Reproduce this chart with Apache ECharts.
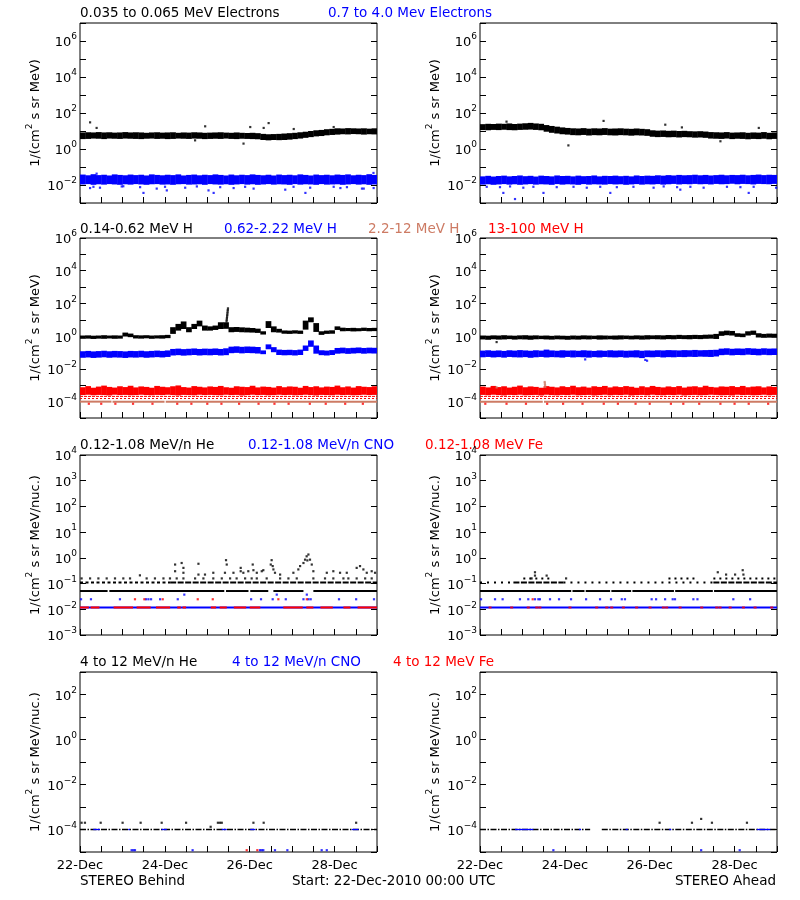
<!DOCTYPE html>
<html><head><meta charset="utf-8">
<script src="https://cdn.jsdelivr.net/npm/echarts@6/dist/echarts.min.js"></script>
<style>html,body{margin:0;padding:0;background:#fff}#c{width:800px;height:900px}</style>
</head><body><div id="c"></div>
<script>
// ===== DATA (flux values stored as log10 exponents; time in hours from 22-Dec-2010 00:00 UTC) =====
const X_MAX = 168;
const dayTickLabels = ['22-Dec', '24-Dec', '26-Dec', '28-Dec'];

// --- Row 1: electrons (3-hour bins, lower/upper edge of the scatter band) ---
const eLowB_lo = [0.55,0.56,0.58,0.57,0.55,0.58,0.57,0.56, 0.58,0.57,0.56,0.55,0.57,0.58,0.56,0.57, 0.55,0.56,0.58,0.57,0.56,0.58,0.57,0.55, 0.56,0.57,0.56,0.58,0.56,0.55,0.57,0.56, 0.55,0.54,0.50,0.48,0.50,0.49,0.50,0.52, 0.55,0.58,0.62,0.66,0.70,0.72,0.76,0.78, 0.80,0.82,0.81,0.83,0.82,0.80,0.82,0.81];
const eLowB_hi = [0.92,0.93,0.92,0.94,0.92,0.93,0.91,0.92, 0.94,0.92,0.93,0.92,0.90,0.92,0.93,0.91, 0.92,0.93,0.90,0.92,0.91,0.93,0.92,0.90, 0.91,0.92,0.93,0.91,0.90,0.92,0.90,0.89, 0.90,0.88,0.84,0.82,0.83,0.84,0.86,0.88, 0.90,0.93,0.96,1.00,1.04,1.06,1.10,1.12, 1.15,1.14,1.16,1.15,1.14,1.15,1.13,1.15];
const eHighB_lo = [-1.97,-1.95,-1.99,-1.96,-1.98,-1.95,-1.97,-1.99, -1.96,-1.98,-1.95,-1.97,-1.99,-1.96,-1.95,-1.98, -1.97,-1.99,-1.96,-1.95,-1.98,-1.97,-1.96,-1.99, -1.95,-1.97,-1.98,-1.96,-1.99,-1.97,-1.95,-1.98, -1.96,-1.99,-1.97,-1.95,-1.98,-1.96,-1.97,-1.99, -1.95,-1.98,-1.96,-1.97,-1.99,-1.95,-1.98,-1.97, -1.96,-1.99,-1.97,-1.95,-1.98,-1.96,-1.99,-1.97];
const eHighB_hi = [-1.42,-1.46,-1.40,-1.45,-1.43,-1.47,-1.41,-1.44, -1.46,-1.42,-1.45,-1.43,-1.47,-1.41,-1.44,-1.46, -1.43,-1.45,-1.41,-1.47,-1.44,-1.42,-1.46,-1.43, -1.45,-1.41,-1.44,-1.47,-1.42,-1.46,-1.43,-1.45, -1.41,-1.44,-1.46,-1.43,-1.47,-1.42,-1.45,-1.43, -1.46,-1.41,-1.44,-1.47,-1.42,-1.45,-1.43,-1.46, -1.42,-1.44,-1.41,-1.46,-1.43,-1.45,-1.40,-1.44];
const eLowA_lo = [1.05,1.04,1.06,1.05,1.07,1.05,1.04,1.06, 1.07,1.08,1.06,1.04,0.96,0.90,0.86,0.82, 0.80,0.77,0.76,0.78,0.75,0.77,0.76,0.78, 0.76,0.75,0.77,0.76,0.74,0.76,0.75,0.73, 0.68,0.66,0.67,0.65,0.66,0.64,0.66,0.65, 0.63,0.64,0.62,0.58,0.57,0.56,0.58,0.55, 0.57,0.56,0.54,0.56,0.55,0.57,0.54,0.56];
const eLowA_hi = [1.38,1.40,1.39,1.41,1.40,1.42,1.39,1.41, 1.43,1.45,1.42,1.40,1.33,1.28,1.24,1.20, 1.17,1.15,1.14,1.16,1.13,1.15,1.14,1.16, 1.13,1.14,1.15,1.13,1.12,1.14,1.12,1.10, 1.04,1.02,1.03,1.01,1.02,1.00,1.01,0.99, 0.98,0.99,0.97,0.94,0.93,0.92,0.94,0.91, 0.92,0.93,0.90,0.92,0.91,0.94,0.90,0.92];
const eHighA_lo = [-1.98,-1.96,-1.99,-1.97,-1.95,-1.98,-1.96,-1.99, -1.97,-1.95,-1.98,-1.96,-1.97,-1.99,-1.95,-1.98, -1.96,-1.97,-1.99,-1.95,-1.98,-1.96,-1.97,-1.98, -1.95,-1.97,-1.96,-1.99,-1.97,-1.95,-1.98,-1.96, -1.97,-1.95,-1.98,-1.96,-1.94,-1.97,-1.95,-1.96, -1.94,-1.96,-1.95,-1.97,-1.94,-1.96,-1.95,-1.93, -1.96,-1.94,-1.95,-1.97,-1.94,-1.95,-1.96,-1.94];
const eHighA_hi = [-1.52,-1.49,-1.53,-1.50,-1.48,-1.52,-1.50,-1.47, -1.51,-1.49,-1.53,-1.48,-1.50,-1.52,-1.47,-1.50, -1.49,-1.52,-1.48,-1.51,-1.50,-1.47,-1.52,-1.49, -1.50,-1.48,-1.51,-1.49,-1.52,-1.47,-1.50,-1.48, -1.49,-1.46,-1.48,-1.45,-1.47,-1.44,-1.46,-1.45, -1.43,-1.46,-1.44,-1.47,-1.45,-1.43,-1.46,-1.44, -1.45,-1.43,-1.46,-1.44,-1.42,-1.45,-1.43,-1.44];
const eLowB_out = [[5.7,1.48],[9.4,1.17],[65.1,0.48],[70.8,1.26],[92.5,0.30],[96.3,1.22],[103.9,1.17],[106.7,1.44],[120.9,1.11],[143.5,1.22]];
const eHighB_out = [[5.7,-2.17],[7.6,-2.1],[9.4,-1.37],[11.3,-2.15],[23.6,-2.08],[24.5,-2.07],[34.0,-2.12],[35.9,-2.44],[43.4,-2.2],[48.1,-2.1],[49.1,-2.3],[59.5,-2.15],[66.1,-2.08],[72.7,-2.3],[75.6,-2.44],[79.3,-2.12],[86.9,-2.17],[93.4,-2.1],[98.2,-2.2],[116.1,-2.26],[120.8,-2.1],[127.5,-2.44],[130.2,-2.15],[143.5,-2.1],[147.3,-2.17],[151.0,-2.12],[159.5,-2.2],[160.5,-2.2],[166.1,-2.17],[166.0,-1.33]];
const eLowA_out = [[15.0,1.52],[50.0,0.2],[69.9,1.56],[104.8,1.35],[114.2,1.2],[136.0,0.43],[157.7,1.17]];
const eHighA_out = [[3.8,-2.1],[11.3,-2.12],[13.2,-2.44],[17.0,-2.08],[19.8,-2.78],[24.5,-2.15],[30.2,-2.1],[35.9,-2.44],[43.4,-2.12],[52.9,-2.1],[60.4,-2.15],[68.0,-2.1],[73.7,-2.44],[77.4,-2.12],[86.8,-2.1],[98.2,-2.15],[103.9,-2.08],[111.5,-2.12],[113.3,-2.26],[119.0,-2.1],[126.5,-2.15],[139.7,-2.1],[147.3,-2.12],[152.0,-2.44],[154.8,-2.1],[167.5,-2.15]];

// --- Row 2: protons ---
const hLowB_lo = [-0.16,-0.15,-0.17,-0.15,-0.16,-0.14,-0.16,-0.15, -0.02,-0.06,-0.14,-0.15,-0.13,-0.16,-0.14,-0.15, -0.12,0.14,0.34,0.44,0.24,0.44,0.60,0.34, 0.34,0.38,0.44,0.45,0.24,0.26,0.24,0.23, 0.22,0.20,0.10,0.50,0.24,0.22,0.15,0.14, 0.16,0.14,0.40,0.85,0.26,0.08,0.14,0.15, 0.38,0.30,0.31,0.29,0.30,0.32,0.30,0.31];
const hLowB_hi = [0.04,0.05,0.03,0.04,0.06,0.04,0.05,0.04, 0.22,0.16,0.06,0.05,0.06,0.04,0.05,0.06, 0.08,0.55,0.75,0.90,0.55,0.75,0.95,0.65, 0.60,0.65,0.85,0.85,0.55,0.56,0.54,0.52, 0.50,0.46,0.30,0.92,0.60,0.45,0.35,0.34, 0.36,0.34,0.95,1.15,0.80,0.30,0.34,0.36, 0.60,0.52,0.50,0.51,0.49,0.52,0.50,0.51];
const hLowB_spike = [[82.9,0.9],[83.0,1.0],[83.1,1.1],[83.2,1.2],[83.3,1.3],[83.4,1.4],[83.5,1.5],[83.6,1.6],[83.7,1.7]];
const hMidB_lo = [-1.32,-1.30,-1.33,-1.31,-1.29,-1.32,-1.30,-1.31, -1.33,-1.30,-1.31,-1.29,-1.32,-1.30,-1.28,-1.30, -1.27,-1.18,-1.16,-1.19,-1.17,-1.15,-1.18,-1.16, -1.17,-1.15,-1.18,-1.16,-1.04,-1.02,-1.05,-1.03, -1.04,-1.06,-1.10,-0.80,-0.98,-1.15,-1.17,-1.16, -1.18,-1.15,-0.90,-0.65,-1.07,-1.16,-1.18,-1.15, -1.07,-1.05,-1.08,-1.06,-1.04,-1.07,-1.05,-1.06];
const hMidB_hi = [-0.92,-0.90,-0.93,-0.91,-0.89,-0.92,-0.90,-0.91, -0.93,-0.90,-0.91,-0.89,-0.92,-0.90,-0.88,-0.90, -0.87,-0.78,-0.76,-0.79,-0.77,-0.75,-0.78,-0.76, -0.77,-0.75,-0.78,-0.74,-0.64,-0.62,-0.65,-0.63, -0.64,-0.66,-0.87,-0.50,-0.67,-0.82,-0.84,-0.83, -0.85,-0.82,-0.57,-0.26,-0.57,-0.86,-0.88,-0.85, -0.72,-0.70,-0.73,-0.71,-0.69,-0.72,-0.70,-0.71];
const hTopB_lo = [-3.60,-3.58,-3.61,-3.59,-3.60,-3.62,-3.58,-3.60, -3.59,-3.61,-3.60,-3.58,-3.60,-3.61,-3.59,-3.60, -3.58,-3.60,-3.62,-3.59,-3.60,-3.61,-3.58,-3.60, -3.59,-3.60,-3.61,-3.58,-3.60,-3.59,-3.62,-3.60, -3.58,-3.60,-3.59,-3.61,-3.60,-3.58,-3.60,-3.59, -3.61,-3.60,-3.58,-3.60,-3.62,-3.59,-3.60,-3.61, -3.58,-3.60,-3.59,-3.61,-3.60,-3.58,-3.60,-3.59];
const hTopB_hi = [-3.12,-3.05,-3.15,-3.08,-3.02,-3.10,-3.14,-3.06, -3.11,-3.03,-3.13,-3.07,-3.10,-3.15,-3.04,-3.09, -3.12,-3.06,-3.01,-3.11,-3.14,-3.05,-3.09,-3.13, -3.07,-3.10,-3.04,-3.12,-3.15,-3.06,-3.09,-3.11, -3.03,-3.13,-3.08,-3.10,-3.14,-3.05,-3.12,-3.07, -3.09,-3.15,-3.04,-3.11,-3.06,-3.13,-3.08,-3.10, -3.02,-3.12,-3.07,-3.14,-3.05,-3.09,-3.11,-3.06];
const hLowA_lo = [-0.20,-0.22,-0.19,-0.21,-0.20,-0.18,-0.21,-0.19, -0.20,-0.22,-0.19,-0.18,-0.20,-0.21,-0.19,-0.20, -0.22,-0.20,-0.21,-0.19,-0.20,-0.18,-0.21,-0.20, -0.19,-0.21,-0.20,-0.18,-0.20,-0.19,-0.21,-0.20, -0.18,-0.19,-0.20,-0.18,-0.19,-0.17,-0.18,-0.19, -0.17,-0.18,-0.16,-0.15,-0.17,0.02,0.06,0.04, -0.04,-0.06,0.04,0.08,-0.08,-0.10,-0.09,-0.10];
const hLowA_hi = [0.04,0.03,0.05,0.04,0.06,0.04,0.03,0.05, 0.06,0.04,0.05,0.03,0.04,0.02,0.04,0.03, 0.02,0.04,0.03,0.05,0.04,0.03,0.05,0.04, 0.03,0.04,0.05,0.04,0.03,0.05,0.04,0.06, 0.05,0.06,0.05,0.07,0.06,0.08,0.06,0.07, 0.08,0.07,0.09,0.10,0.14,0.30,0.34,0.32, 0.18,0.16,0.30,0.34,0.18,0.14,0.16,0.15];
const hMidA_lo = [-1.29,-1.27,-1.30,-1.28,-1.31,-1.27,-1.29,-1.30, -1.28,-1.32,-1.29,-1.27,-1.30,-1.28,-1.29,-1.31, -1.27,-1.30,-1.28,-1.29,-1.31,-1.28,-1.30,-1.27, -1.29,-1.30,-1.28,-1.31,-1.29,-1.30,-1.34,-1.28, -1.29,-1.27,-1.30,-1.28,-1.29,-1.27,-1.28,-1.26, -1.27,-1.25,-1.26,-1.27,-1.24,-1.16,-1.14,-1.17, -1.15,-1.16,-1.13,-1.15,-1.17,-1.14,-1.16,-1.15];
const hMidA_hi = [-0.88,-0.86,-0.89,-0.87,-0.90,-0.86,-0.88,-0.85, -0.87,-0.89,-0.86,-0.88,-0.82,-0.87,-0.89,-0.86, -0.88,-0.87,-0.89,-0.86,-0.88,-0.90,-0.87,-0.89, -0.86,-0.88,-0.87,-0.89,-0.88,-0.86,-0.89,-0.87, -0.88,-0.86,-0.87,-0.85,-0.86,-0.87,-0.85,-0.86, -0.84,-0.86,-0.85,-0.84,-0.83,-0.76,-0.74,-0.77, -0.75,-0.76,-0.73,-0.75,-0.77,-0.74,-0.76,-0.75];
const hTopA_lo = [-3.59,-3.61,-3.58,-3.60,-3.62,-3.59,-3.60,-3.58, -3.61,-3.60,-3.59,-3.62,-3.58,-3.60,-3.61,-3.59, -3.60,-3.58,-3.61,-3.60,-3.59,-3.62,-3.60,-3.58, -3.61,-3.59,-3.60,-3.58,-3.62,-3.60,-3.59,-3.61, -3.58,-3.60,-3.61,-3.59,-3.60,-3.58,-3.62,-3.60, -3.59,-3.61,-3.60,-3.58,-3.59,-3.61,-3.60,-3.62, -3.58,-3.60,-3.59,-3.61,-3.60,-3.58,-3.61,-3.59];
const hTopA_hi = [-3.08,-3.13,-3.04,-3.11,-3.06,-3.14,-3.09,-3.02, -3.12,-3.07,-3.10,-3.15,-3.05,-3.09,-3.13,-3.06, -3.11,-3.03,-3.12,-3.08,-3.14,-3.06,-3.10,-3.04, -3.13,-3.07,-3.11,-3.05,-3.09,-3.15,-3.06,-3.12, -3.04,-3.10,-3.13,-3.07,-3.11,-3.05,-3.14,-3.08, -3.06,-3.12,-3.03,-3.10,-3.13,-3.07,-3.09,-3.05, -3.11,-3.04,-3.12,-3.08,-3.06,-3.13,-3.07,-3.10];
const hLowA_out = [[9.4,-0.36]];
const hMidA_out = [[59.5,-1.42],[93.5,-1.45],[94.5,-1.5]];
const hTopB_lvlA = [[0,168,-3.68]];
const hTopB_lvlB = [[0,168,-3.81]];
const hHighB_lvl = [[0,17.8,-4.0],[18.4,47.8,-4.0],[48.5,168,-4.0]];
const hTopB_lowHours = [5,12,20,30,41,55,63,72,80,90,101,110,118,130,139,150,160];
const hTopA_lvlA = [[0,168,-3.68]];
const hTopA_lvlB = [[0,168,-3.81]];
const hHighA_lvl = [[0,35.5,-4.0],[36.2,168,-4.0]];
const hHighA_pts = [[9.4,-3.13],[36.6,-2.8],[36.7,-2.9],[36.8,-3.0],[36.9,-3.1]];
const hTopA_lowHours = [3,15,26,38,47,58,70,78,88,96,108,115,124,136,144,152,163];
const hTopLowLevel = -4.13;

// --- Row 3: 0.12-1.08 MeV/n ions ---
const heB_solid = [[0,15.6,-1.29],[16.6,81.6,-1.29],[82.6,95.3,-1.29],[96.3,106.5,-1.29],[109.4,126.4,-1.29],[132,168,-1.29]];
const heB_dense = [[51,168,-0.96]];
const heB_sparse = [[0,51,-0.96]];
const heB_lvl08Hours = [0.9,5.7,10.4,15.1,19.8,24.5,28.3,37.7,42.4,47.2,50.9,54.7,58.5,65.1,69.8,75.4,80.2,84.9,88.6,93.4,97.1,100,105.6,113.2,117.9,122.6,132,138.6,143.3,149,151.8,156.5,161.3,165];
const heB_event = [[33.9,-0.68],[53.8,-0.26],[57.5,-0.2],[58.5,-0.39],[53.8,-0.52],[58.5,-0.58],[67,-0.23],[67,-0.65],[70.7,-0.65],[75.4,-0.58],[82.6,-0.09],[83,-0.26],[82,-0.58],[86.8,-0.58],[90.9,-0.39],[90.9,-0.52],[92.4,-0.58],[95.2,-0.52],[97.7,-0.26],[98.1,-0.48],[100,-0.58],[102.8,-0.52],[103.7,-0.48],[108.4,-0.09],[107.9,-0.26],[109,-0.32],[109.4,-0.45],[110.3,-0.58],[113.2,-0.65],[120.7,-0.58],[123.5,-0.45],[124.5,-0.32],[126.4,-0.2],[127.3,-0.07],[128.2,0.06],[129.2,0.13],[128.6,-0.1],[130.1,-0.07],[131.1,-0.26],[132,-0.52],[139.6,-0.58],[143.3,-0.52],[147.1,-0.58],[150.9,-0.58],[156.5,-0.39],[158.4,-0.32],[160.3,-0.45],[162.2,-0.58],[165,-0.52],[166.9,-0.58]];
const cnoB_line = [[0,168,-1.93]];
const feB_line = [[0,5,-1.93],[6,11,-1.93],[19,30,-1.93],[32,40,-1.93],[43,51,-1.93],[55,57,-1.93],[58,60,-1.93],[74,77,-1.93],[79,83,-1.93],[87,94,-1.93],[96,102,-1.93],[115,126,-1.93],[128,132,-1.93],[136,143,-1.93],[149,153,-1.93],[157,168,-1.93]];
const cnoB_161Hours = [0.6,6.2,22.6,37.3,38.7,40.2,45.3,55.3,96.8,102.4,109,116.4,126.4,129.2,130.5,146.5,156.2,166.3];
const feB_161Hours = [31.1,36.4,46.8,66.6,75.1,112.2,128.3];
const cnoB_143Hours = [59,111.3,128.3];

const heA_solid = [[0,51.6,-1.29],[52.3,59.1,-1.29],[59.8,73.6,-1.29],[74.3,85.5,-1.29],[86.2,109.7,-1.29],[110.4,131.7,-1.29],[132.4,168,-1.29]];
const heA_dense = [[18.9,47.2,-0.96],[132,168,-0.96]];
const heA_sparse = [[0,18.9,-0.96],[47.2,132,-0.96]];
const heA_lvl08 = [[24.5,40.5,-0.8],[106.6,121.6,-0.8],[132,168,-0.8]];
const heA_event = [[29.2,-0.8],[31.1,-0.56],[31.1,-0.69],[37.7,-0.69],[48.7,-0.8],[134.5,-0.56],[139.2,-0.65],[144.3,-0.65],[148.6,-0.48],[149,-0.65]];
const cnoA_line = [[0,168,-1.93]];
const feA_193Hours = [5.7,17.9,27.3,32.1,33.9,50.9,66,71.7,74.5,81.1,88.6,96.2,103.7,105.6,113.2,125.4,133.9,135.8,141.5,149,155.6,165];
const cnoA_161Hours = [0.6,8.5,12.8,22.6,27.3,31.1,33,33.9,39.6,44.7,51.5,60,67.9,74.1,80.2,82,97.1,99.6,104.7,109,110.3,120.7,123,143.3,152.8];
const feA_161Hours = [29.8];
const level161 = -1.61, level143 = -1.43, level193 = -1.93, level08 = -0.8;

// --- Row 4: 4-12 MeV/n ions ---
const he4B_line = [[0,168,-4.0]];
const cno4B_seg = [[7.5,11.3,-4.0],[27.3,28.3,-4.0],[46.2,49.1,-4.0],[80.2,83,-4.0],[96.3,99.1,-4.0],[153.8,157.6,-4.0]];
const he4B_dots = [[0.9,-3.7],[2.8,-3.7],[11.7,-3.7],[24.1,-3.7],[34.3,-3.7],[46.2,-3.7],[60,-3.7],[78,-3.7],[79.2,-3.7],[80.2,-3.7],[98.1,-3.7],[103.9,-3.7],[156.2,-3.7],[73.9,-3.88]];
const cno4B_lowHours = [29.2,30.2,31.1,63.7,101.8,102.8,103.7,110.3,117.3,136.7,139.6];
const fe4B_lowHours = [94.3,100.3];
const he4A_line = [[0,62.3,-4.0],[68.9,168,-4.0]];
const cno4A_seg = [[19.8,30.2,-4.0],[56,57.2,-4.0],[82.4,83.6,-4.0],[107,108.2,-4.0],[156.7,164.2,-4.0]];
const he4A_dots = [[101.6,-3.7],[119.9,-3.7],[125.1,-3.53],[131.2,-3.7],[151,-3.7]];
const cno4A_lowHours = [41.5,125.1,146.9];
const row4LowLevel = -4.92;

// ===== STYLE / LAYOUT =====
const FONT = '"DejaVu Sans", sans-serif';
const BLACK = '#000000', BLUE = '#0000ff', RED = '#ff0000', SIENNA = '#cd7b64';
const colLeft = [80, 480], rowTop = [23, 238, 455, 672], PW = 297, PH = 180;
const rowAxes = [
  { min: -3, max: 7, step: 2, name: '{n|1/(cm}{s|2}{n| s sr MeV)}' },
  { min: -5, max: 6, step: 2, name: '{n|1/(cm}{s|2}{n| s sr MeV)}' },
  { min: -3, max: 4, step: 1, name: '{n|1/(cm}{s|2}{n| s sr MeV/nuc.)}' },
  { min: -5, max: 3, step: 2, name: '{n|1/(cm}{s|2}{n| s sr MeV/nuc.)}' }
];

const atLevel = (hours, level) => hours.map(h => [h, level]);

const grids = [], xAxes = [], yAxes = [], series = [];

function bandSeries(g, lo, hi, color) {
  const n = lo.length, w = X_MAX / n;
  const data = lo.map((v, k) => [k * w, (k + 1) * w, v, hi[k]]);
  return {
    type: 'custom', xAxisIndex: g, yAxisIndex: 2 * g, data, silent: true, clip: true,
    encode: { x: [0, 1], y: [2, 3] },
    renderItem: (p, api) => {
      const a = api.coord([api.value(0), api.value(3)]);
      const b = api.coord([api.value(1), api.value(2)]);
      return { type: 'rect', shape: { x: a[0], y: a[1], width: b[0] - a[0] + 0.4, height: Math.max(b[1] - a[1], 1.5) }, style: { fill: color } };
    }
  };
}
function segSeries(g, segs, color, width, dash) {
  return {
    type: 'custom', xAxisIndex: g, yAxisIndex: 2 * g, data: segs, silent: true, clip: true,
    encode: { x: [0, 1], y: 2 },
    renderItem: (p, api) => {
      const a = api.coord([api.value(0), api.value(2)]);
      const b = api.coord([api.value(1), api.value(2)]);
      return { type: 'line', shape: { x1: a[0], y1: a[1], x2: b[0], y2: a[1] }, style: { stroke: color, lineWidth: width, lineDash: dash || null } };
    }
  };
}
function ptSeries(g, pts, color, size) {
  return { type: 'scatter', xAxisIndex: g, yAxisIndex: 2 * g, data: pts, symbol: 'rect', symbolSize: size || 2.2, itemStyle: { color }, silent: true, clip: true };
}

const panels = [
  { row: 0, col: 0, build: g => [
    bandSeries(g, eLowB_lo, eLowB_hi, BLACK), ptSeries(g, eLowB_out, BLACK),
    bandSeries(g, eHighB_lo, eHighB_hi, BLUE), ptSeries(g, eHighB_out, BLUE)] },
  { row: 0, col: 1, build: g => [
    bandSeries(g, eLowA_lo, eLowA_hi, BLACK), ptSeries(g, eLowA_out, BLACK),
    bandSeries(g, eHighA_lo, eHighA_hi, BLUE), ptSeries(g, eHighA_out, BLUE)] },
  { row: 1, col: 0, build: g => [
    bandSeries(g, hLowB_lo, hLowB_hi, BLACK), ptSeries(g, hLowB_spike, BLACK),
    bandSeries(g, hMidB_lo, hMidB_hi, BLUE),
    bandSeries(g, hTopB_lo, hTopB_hi, RED),
    segSeries(g, hTopB_lvlA, RED, 1, [3, 1]), segSeries(g, hTopB_lvlB, RED, 1, [2, 2]),
    segSeries(g, hHighB_lvl, SIENNA, 2),
    ptSeries(g, atLevel(hTopB_lowHours, hTopLowLevel), RED)] },
  { row: 1, col: 1, build: g => [
    bandSeries(g, hLowA_lo, hLowA_hi, BLACK), ptSeries(g, hLowA_out, BLACK),
    bandSeries(g, hMidA_lo, hMidA_hi, BLUE), ptSeries(g, hMidA_out, BLUE),
    bandSeries(g, hTopA_lo, hTopA_hi, RED),
    segSeries(g, hTopA_lvlA, RED, 1, [3, 1]), segSeries(g, hTopA_lvlB, RED, 1, [2, 2]),
    segSeries(g, hHighA_lvl, SIENNA, 2), ptSeries(g, hHighA_pts, SIENNA),
    ptSeries(g, atLevel(hTopA_lowHours, hTopLowLevel), RED)] },
  { row: 2, col: 0, build: g => [
    segSeries(g, heB_solid, BLACK, 2),
    segSeries(g, heB_dense, BLACK, 2, [6, 1.5]), segSeries(g, heB_sparse, BLACK, 2, [3, 2.5]),
    ptSeries(g, atLevel(heB_lvl08Hours, level08), BLACK), ptSeries(g, heB_event, BLACK),
    segSeries(g, cnoB_line, BLUE, 2), segSeries(g, feB_line, RED, 2),
    ptSeries(g, atLevel(cnoB_161Hours, level161), BLUE), ptSeries(g, atLevel(feB_161Hours, level161), RED),
    ptSeries(g, atLevel(cnoB_143Hours, level143), BLUE)] },
  { row: 2, col: 1, build: g => [
    segSeries(g, heA_solid, BLACK, 2),
    segSeries(g, heA_dense, BLACK, 2, [6, 1.5]), segSeries(g, heA_sparse, BLACK, 2, [2, 5]),
    segSeries(g, heA_lvl08, BLACK, 2, [2, 4]), ptSeries(g, heA_event, BLACK),
    segSeries(g, cnoA_line, BLUE, 2), ptSeries(g, atLevel(feA_193Hours, level193), RED, [3, 2]),
    ptSeries(g, atLevel(cnoA_161Hours, level161), BLUE), ptSeries(g, atLevel(feA_161Hours, level161), RED)] },
  { row: 3, col: 0, build: g => [
    segSeries(g, he4B_line, BLACK, 1.3, [6, 1.5, 1.5, 1.5]), segSeries(g, cno4B_seg, BLUE, 1.3),
    ptSeries(g, he4B_dots, BLACK),
    ptSeries(g, atLevel(cno4B_lowHours, row4LowLevel), BLUE), ptSeries(g, atLevel(fe4B_lowHours, row4LowLevel), RED)] },
  { row: 3, col: 1, build: g => [
    segSeries(g, he4A_line, BLACK, 1.3, [6, 1.5, 1.5, 1.5]), segSeries(g, cno4A_seg, BLUE, 1.3),
    ptSeries(g, he4A_dots, BLACK),
    ptSeries(g, atLevel(cno4A_lowHours, row4LowLevel), BLUE)] }
];

function expLabel(v) {
  const e = Math.round(v);
  return '{b|10}{s|' + (e < 0 ? '\u2212' + (-e) : String(e)) + '}';
}
const tickRich = {
  b: { fontSize: 13, fontFamily: FONT, color: BLACK, padding: [4, 0, 0, 0], verticalAlign: 'bottom' },
  s: { fontSize: 9, fontFamily: FONT, color: BLACK, verticalAlign: 'top' }
};
const nameRich = {
  n: { fontSize: 13, fontFamily: FONT, color: BLACK, padding: [4, 0, 0, 0], verticalAlign: 'bottom' },
  s: { fontSize: 9, fontFamily: FONT, color: BLACK, verticalAlign: 'top' }
};

panels.forEach((p, g) => {
  const ax = rowAxes[p.row];
  const bottomRow = p.row === 3;
  grids.push({ left: colLeft[p.col], top: rowTop[p.row], width: PW, height: PH, show: true, borderColor: BLACK, borderWidth: 1, backgroundColor: 'transparent', containLabel: false });
  xAxes.push({
    type: 'value', gridIndex: g, min: 0, max: X_MAX, interval: 12, position: 'bottom',
    axisLine: { show: false, onZero: false }, splitLine: { show: false },
    axisTick: { show: true, inside: true, length: 6, lineStyle: { color: BLACK, width: 1 } },
    axisLabel: {
      show: bottomRow, margin: 7, color: BLACK, fontFamily: FONT, fontSize: 13,
      showMinLabel: true, showMaxLabel: true,
      formatter: v => (v % 48 === 0 && v / 48 < dayTickLabels.length) ? dayTickLabels[v / 48] : ''
    }
  });
  const yBase = {
    type: 'value', gridIndex: g, min: ax.min, max: ax.max, interval: 1,
    axisLine: { show: false, onZero: false }, splitLine: { show: false },
    axisTick: { show: true, inside: true, length: 6, lineStyle: { color: BLACK, width: 1 } }
  };
  yAxes.push(Object.assign({}, yBase, {
    position: 'left',
    name: ax.name, nameLocation: 'middle', nameRotate: 90, nameGap: 38,
    nameTextStyle: { fontSize: 13, fontFamily: FONT, color: BLACK, rich: nameRich },
    axisLabel: {
      show: true, margin: 3, color: BLACK, fontFamily: FONT, fontSize: 13, rich: tickRich,
      showMinLabel: true, showMaxLabel: true,
      formatter: v => (Math.round(v) % ax.step === 0) ? expLabel(v) : ''
    }
  }));
  yAxes.push(Object.assign({}, yBase, { position: 'right', axisLabel: { show: false } }));
  p.build(g).forEach(s => { s.animation = false; series.push(s); });
});

// Titles (one line of coloured labels per row)
const titleFont = '13.5px ' + FONT;
const titles = [
  { y: 13, parts: [['0.035 to 0.065 MeV Electrons', 80, BLACK], ['0.7 to 4.0 Mev Electrons', 328, BLUE]] },
  { y: 229, parts: [['0.14-0.62 MeV H', 80, BLACK], ['0.62-2.22 MeV H', 224, BLUE], ['2.2-12 MeV H', 368, SIENNA], ['13-100 MeV H', 488, RED]] },
  { y: 445, parts: [['0.12-1.08 MeV/n He', 80, BLACK], ['0.12-1.08 MeV/n CNO', 248, BLUE], ['0.12-1.08 MeV Fe', 425, RED]] },
  { y: 662, parts: [['4 to 12 MeV/n He', 80, BLACK], ['4 to 12 MeV/n CNO', 232, BLUE], ['4 to 12 MeV Fe', 393, RED]] }
];
const graphics = [];
titles.forEach(t => t.parts.forEach(([text, x, color]) => {
  graphics.push({ type: 'text', x, y: t.y, silent: true,
    style: { text, fill: color, font: titleFont, textAlign: 'left', align: 'left', textVerticalAlign: 'middle', verticalAlign: 'middle' } });
}));
const footer = [['STEREO Behind', 80, 'left'], ['Start: 22-Dec-2010 00:00 UTC', 292, 'left'], ['STEREO Ahead', 776, 'right']];
footer.forEach(([text, x, align]) => {
  graphics.push({ type: 'text', x, y: 881, silent: true,
    style: { text, fill: BLACK, font: titleFont, textAlign: align, align, textVerticalAlign: 'middle', verticalAlign: 'middle' } });
});

const chart = echarts.init(document.getElementById('c'), null, { renderer: 'canvas' });
chart.setOption({
  animation: false,
  backgroundColor: '#ffffff',
  grid: grids, xAxis: xAxes, yAxis: yAxes, series, graphic: graphics
});
</script></body></html>
